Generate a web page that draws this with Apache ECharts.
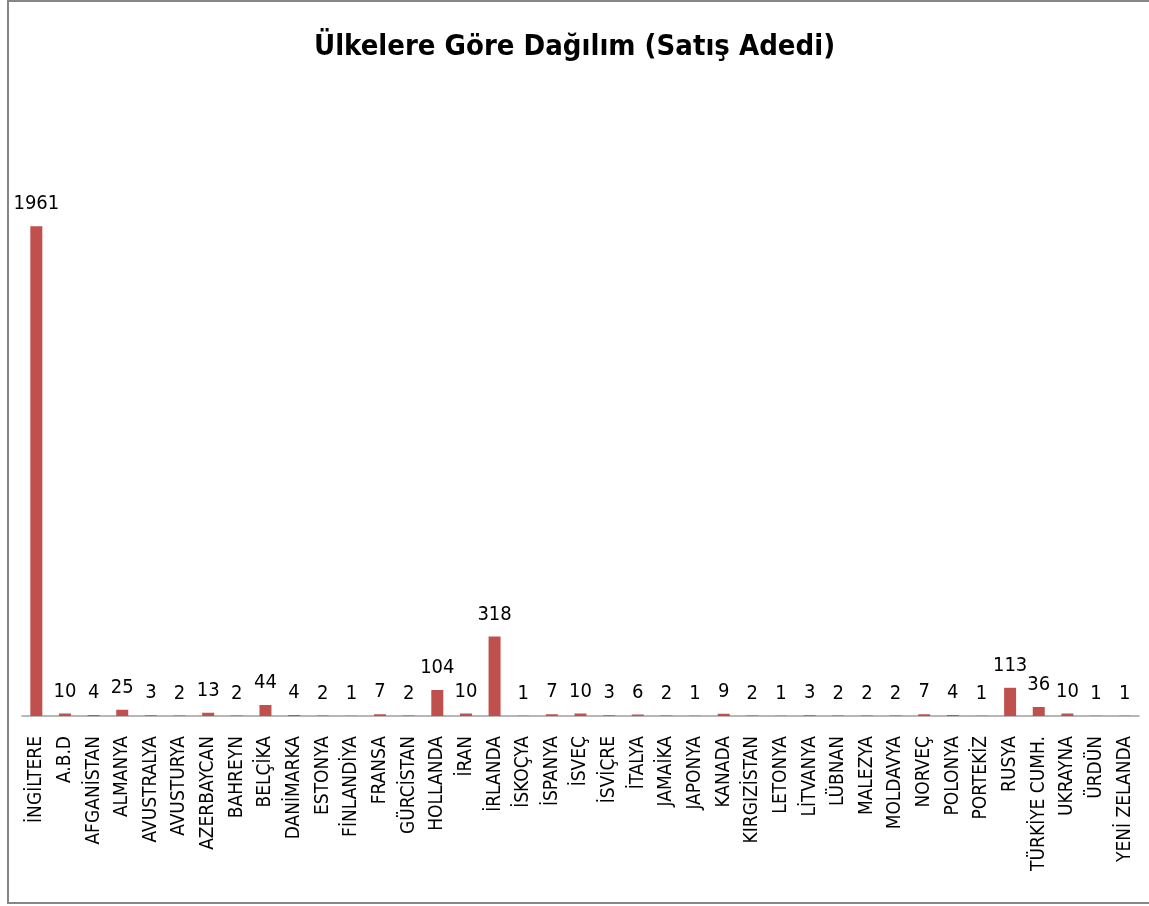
<!DOCTYPE html>
<html>
<head>
<meta charset="utf-8">
<script src="https://cdn.jsdelivr.net/npm/echarts@6/dist/echarts.min.js"></script>
<style>
html, body { margin: 0; padding: 0; background: #fff; }
#chart-0 { width: 1149px; height: 906px; }
</style>
</head>
<body>
<div id="chart-0"></div>
<script>
var countries = ['İNGİLTERE', 'A.B.D', 'AFGANİSTAN', 'ALMANYA', 'AVUSTRALYA', 'AVUSTURYA', 'AZERBAYCAN',
    'BAHREYN', 'BELÇİKA', 'DANİMARKA', 'ESTONYA', 'FİNLANDİYA', 'FRANSA', 'GÜRCİSTAN', 'HOLLANDA',
    'İRAN', 'İRLANDA', 'İSKOÇYA', 'İSPANYA', 'İSVEÇ', 'İSVİÇRE', 'İTALYA', 'JAMAİKA', 'JAPONYA',
    'KANADA', 'KIRGIZİSTAN', 'LETONYA', 'LİTVANYA', 'LÜBNAN', 'MALEZYA', 'MOLDAVYA', 'NORVEÇ',
    'POLONYA', 'PORTEKİZ', 'RUSYA', 'TÜRKİYE CUMH.', 'UKRAYNA', 'ÜRDÜN', 'YENİ ZELANDA'];
var sales = [1961, 10, 4, 25, 3, 2, 13, 2, 44, 4, 2, 1, 7, 2, 104, 10, 318, 1, 7, 10, 3, 6, 2, 1,
    9, 2, 1, 3, 2, 2, 2, 7, 4, 1, 113, 36, 10, 1, 1];

var narrow = '"Liberation Sans Narrow", "DejaVu Sans Condensed", sans-serif';
var chart = echarts.init(document.getElementById('chart-0'));
var option = {
    animation: false,
    title: {
        text: 'Ülkelere Göre Dağılım (Satış Adedi)',
        left: 'center',
        top: 28,
        textStyle: {
            fontFamily: narrow,
            fontWeight: 'bold',
            fontSize: 29,
            color: '#000'
        }
    },
    graphic: [{
        type: 'rect',
        shape: { x: 8, y: 1, width: 1200, height: 902 },
        style: { fill: 'none', stroke: '#868686', lineWidth: 2 },
        silent: true
    }],
    grid: {
        left: 22,
        right: 10,
        top: 154,
        bottom: 190
    },
    xAxis: {
        type: 'category',
        data: countries,
        axisTick: { show: false },
        axisLine: { lineStyle: { color: '#a0a0a0', width: 1.5 } },
        axisLabel: {
            interval: 0,
            rotate: 90,
            margin: 20,
            fontFamily: narrow,
            fontSize: 19,
            color: '#000'
        }
    },
    yAxis: {
        type: 'value',
        min: 0,
        max: 2250,
        show: false,
        splitLine: { show: false }
    },
    series: [{
        name: 'Satış Adedi',
        type: 'bar',
        data: sales,
        barWidth: 12,
        itemStyle: { color: '#C0504D' },
        label: {
            show: true,
            position: 'top',
            distance: 12,
            fontFamily: narrow,
            fontSize: 20,
            color: '#000'
        }
    }]
};
chart.setOption(option);
</script>
</body>
</html>
